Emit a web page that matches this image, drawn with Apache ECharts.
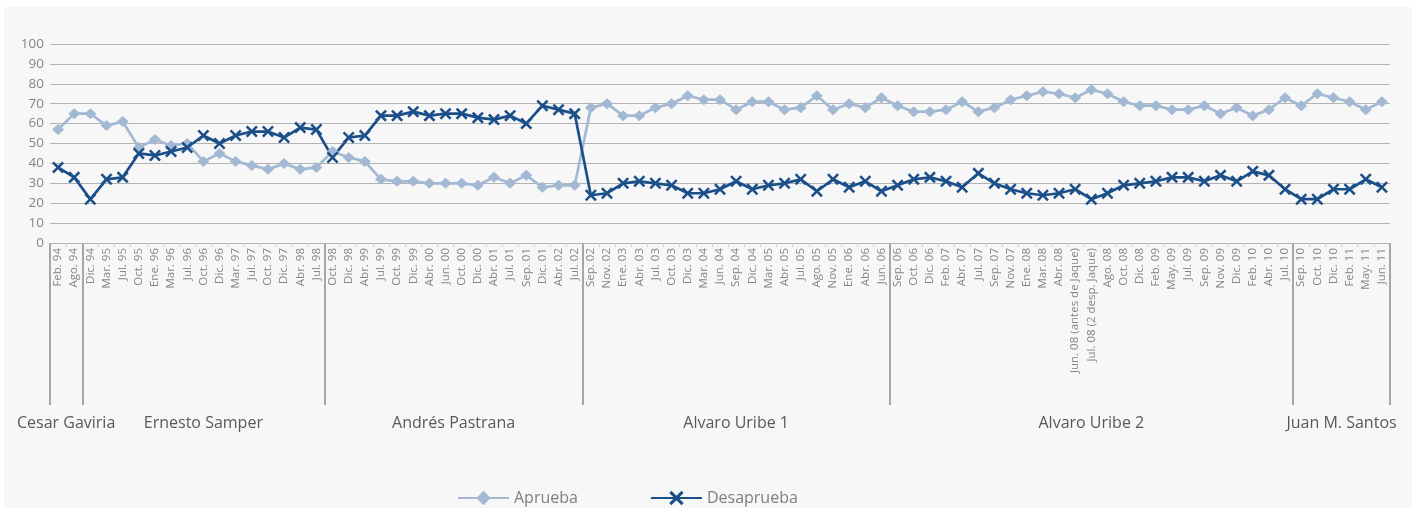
<!DOCTYPE html>
<html>
<head>
    <meta charset="utf-8" />
    <title>Aprobación presidencial</title>
    <script src="https://cdn.jsdelivr.net/npm/echarts@6/dist/echarts.min.js"></script>
</head>
<body style="margin: 0; background: #ffffff">
    <div id="container" style="position: absolute; left: 4px; top: 7px; width: 1408px; height: 501px; background: #f7f7f7"></div>
<script>
    var fechas = ['Feb. 94', 'Ago. 94', 'Dic. 94', 'Mar. 95', 'Jul. 95', 'Oct. 95', 'Ene. 96', 'Mar. 96', 'Jul. 96', 'Oct. 96',
        'Dic. 96', 'Mar. 97', 'Jul. 97', 'Oct. 97', 'Dic. 97', 'Abr. 98', 'Jul. 98', 'Oct. 98', 'Dic. 98', 'Abr. 99',
        'Jul. 99', 'Oct. 99', 'Dic. 99', 'Abr. 00', 'Jun. 00', 'Oct. 00', 'Dic. 00', 'Abr. 01', 'Jul. 01', 'Sep. 01',
        'Dic. 01', 'Abr. 02', 'Jul. 02', 'Sep. 02', 'Nov. 02', 'Ene. 03', 'Abr. 03', 'Jul. 03', 'Oct. 03', 'Dic. 03',
        'Mar. 04', 'Jun. 04', 'Sep. 04', 'Dic. 04', 'Mar. 05', 'Abr. 05', 'Jul. 05', 'Ago. 05', 'Nov. 05', 'Ene. 06',
        'Abr. 06', 'Jun. 06', 'Sep. 06', 'Oct. 06', 'Dic. 06', 'Feb. 07', 'Abr. 07', 'Jul. 07', 'Sep. 07', 'Nov. 07',
        'Ene. 08', 'Mar. 08', 'Abr. 08', 'Jun. 08 (antes de Jaque)', 'Jul. 08 (2 desp. Jaque)', 'Ago. 08', 'Oct. 08', 'Dic. 08', 'Feb. 09', 'May. 09',
        'Jul. 09', 'Sep. 09', 'Nov. 09', 'Dic. 09', 'Feb. 10', 'Abr. 10', 'Jul. 10', 'Sep. 10', 'Oct. 10', 'Dic. 10',
        'Feb. 11', 'May. 11', 'Jun. 11'];

    var aprueba = [57, 65, 65, 59, 61, 48, 52, 49, 50, 41,
        45, 41, 39, 37, 40, 37, 38, 46, 43, 41,
        32, 31, 31, 30, 30, 30, 29, 33, 30, 34,
        28, 29, 29, 68, 70, 64, 64, 68, 70, 74,
        72, 72, 67, 71, 71, 67, 68, 74, 67, 70,
        68, 73, 69, 66, 66, 67, 71, 66, 68, 72,
        74, 76, 75, 73, 77, 75, 71, 69, 69, 67,
        67, 69, 65, 68, 64, 67, 73, 69, 75, 73,
        71, 67, 71];

    var desaprueba = [38, 33, 22, 32, 33, 45, 44, 46, 48, 54,
        50, 54, 56, 56, 53, 58, 57, 43, 53, 54,
        64, 64, 66, 64, 65, 65, 63, 62, 64, 60,
        69, 67, 65, 24, 25, 30, 31, 30, 29, 25,
        25, 27, 31, 27, 29, 30, 32, 26, 32, 28,
        31, 26, 29, 32, 33, 31, 28, 35, 30, 27,
        25, 24, 25, 27, 22, 25, 29, 30, 31, 33,
        33, 31, 34, 31, 36, 34, 27, 22, 22, 27,
        27, 32, 28];

    var presidentes = ['Cesar Gaviria', 'Ernesto Samper', 'Andrés Pastrana', 'Alvaro Uribe 1', 'Alvaro Uribe 2', 'Juan M. Santos'];
    var mediciones = [2, 15, 16, 19, 25, 6];

    // limites y centros de cada periodo, en unidades de categoria
    var limites = [0];
    var centros = [];
    mediciones.forEach(function (n, i) {
        centros.push(limites[i] + n / 2);
        limites.push(limites[i] + n);
    });

    var cruz = 'path://M0,1.5 L1.5,0 L5,3.5 L8.5,0 L10,1.5 L6.5,5 L10,8.5 L8.5,10 L5,6.5 L1.5,10 L0,8.5 L3.5,5 Z';
    var gris = '#858585';
    var fuente = '"Open Sans", sans-serif';

    var myChart = echarts.init(document.getElementById('container'));
    var option = {
        animation: false,
        textStyle: { fontFamily: fuente },
        grid: { left: 46, right: 22, top: 37, height: 199 },
        legend: {
            left: 448,
            top: 478,
            itemWidth: 51,
            itemHeight: 18,
            itemGap: 72,
            textStyle: { fontSize: 16, color: '#7f7f7f', fontFamily: fuente },
            data: ['Aprueba', 'Desaprueba']
        },
        xAxis: [{
            type: 'category',
            data: fechas,
            axisLine: { lineStyle: { color: '#b3b3b3' } },
            axisTick: { show: true, interval: 0, length: 4, lineStyle: { color: '#d0d0d0' } },
            axisLabel: { interval: 0, rotate: 90, fontSize: 11.5, color: gris, margin: 5 }
        }, {
            type: 'value',
            position: 'bottom',
            min: 0,
            max: fechas.length,
            axisLine: { show: false },
            splitLine: { show: false },
            axisTick: {
                show: true,
                customValues: limites,
                length: 162,
                lineStyle: { color: '#a6a6a6', width: 2 }
            },
            axisLabel: {
                customValues: centros,
                margin: 172,
                fontSize: 16,
                color: '#595959',
                formatter: function (v) {
                    return presidentes[centros.indexOf(v)];
                }
            }
        }],
        yAxis: {
            type: 'value',
            min: 0,
            max: 100,
            interval: 10,
            axisLine: { show: false },
            axisTick: { show: false },
            axisLabel: { fontSize: 13.5, color: gris, margin: 6 },
            splitLine: { lineStyle: { color: '#b3b3b3' } }
        },
        series: [{
            name: 'Aprueba',
            type: 'line',
            data: aprueba,
            symbol: 'diamond',
            symbolSize: [12, 11],
            lineStyle: { width: 2.7, color: '#a3b9d3' },
            itemStyle: { color: '#a3b9d3' }
        }, {
            name: 'Desaprueba',
            type: 'line',
            data: desaprueba,
            symbol: cruz,
            symbolSize: 12,
            lineStyle: { width: 2.7, color: '#1b4f8a' },
            itemStyle: { color: '#1b4f8a' }
        }]
    };
    myChart.setOption(option);
</script>
</body>
</html>
